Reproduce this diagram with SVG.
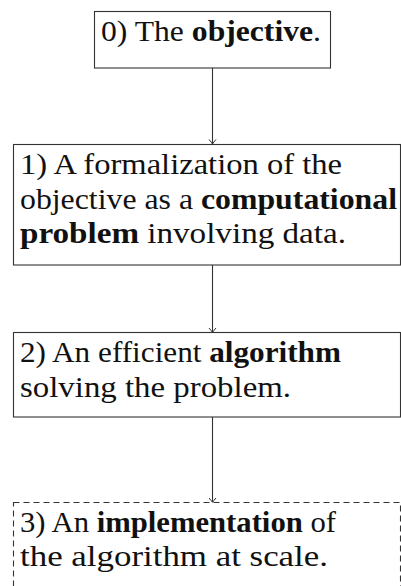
<svg xmlns="http://www.w3.org/2000/svg" width="401" height="586" viewBox="0 0 401 586">
<style>
.box{fill:#fff;stroke:#333;stroke-width:1.1}
.dash{stroke-dasharray:6 4}
.t{font-family:"Liberation Serif","Times New Roman",serif;font-size:29px;fill:#111}
.b{font-weight:bold}
.edge{stroke:#333;stroke-width:1.1;fill:none}
</style>
<defs>
<marker id="arr" markerUnits="userSpaceOnUse" markerWidth="12" markerHeight="10" viewBox="-6 -8 12 10" refX="0" refY="0" orient="auto-start-reverse" overflow="visible">
<path d="M-3.5,-4.5 Q-0.8,-1.5 0,0 Q0.8,-1.5 3.5,-4.5" transform="rotate(-90)" fill="none" stroke="#333" stroke-width="1"/>
</marker>
</defs>
<rect width="401" height="586" fill="#fff"/>
<g id="connectors">
<line class="edge" x1="212.5" y1="68" x2="212.5" y2="144" marker-end="url(#arr)"/>
<line class="edge" x1="212.5" y1="265" x2="212.5" y2="332.5" marker-end="url(#arr)"/>
<line class="edge" x1="212.5" y1="417" x2="212.5" y2="502.5" marker-end="url(#arr)"/>
</g>
<g id="node0">
<rect class="box" x="94.5" y="11.5" width="236" height="56.5"/>
<text class="t" x="101" y="41" textLength="220" lengthAdjust="spacingAndGlyphs">0) The <tspan class="b">objective</tspan>.</text>
</g>
<g id="node1">
<rect class="box" x="13.5" y="144.5" width="387" height="120.5"/>
<text class="t" x="20" y="174" textLength="322" lengthAdjust="spacingAndGlyphs">1) A formalization of the</text>
<text class="t" x="20" y="208.7" textLength="377" lengthAdjust="spacingAndGlyphs">objective as a <tspan class="b">computational</tspan></text>
<text class="t" x="20" y="243.4" textLength="326" lengthAdjust="spacingAndGlyphs"><tspan class="b">problem</tspan> involving data.</text>
</g>
<g id="node2">
<rect class="box" x="13.5" y="332.5" width="387" height="84.5"/>
<text class="t" x="20" y="362" textLength="321" lengthAdjust="spacingAndGlyphs">2) An efficient <tspan class="b">algorithm</tspan></text>
<text class="t" x="20" y="396.7" textLength="271" lengthAdjust="spacingAndGlyphs">solving the problem.</text>
</g>
<g id="node3">
<rect class="box dash" x="13.5" y="502.5" width="387" height="110"/>
<text class="t" x="20" y="531.7" textLength="316" lengthAdjust="spacingAndGlyphs">3) An <tspan class="b">implementation</tspan> of</text>
<text class="t" x="20" y="566.4" textLength="308" lengthAdjust="spacingAndGlyphs">the algorithm at scale.</text>
</g>
</svg>
